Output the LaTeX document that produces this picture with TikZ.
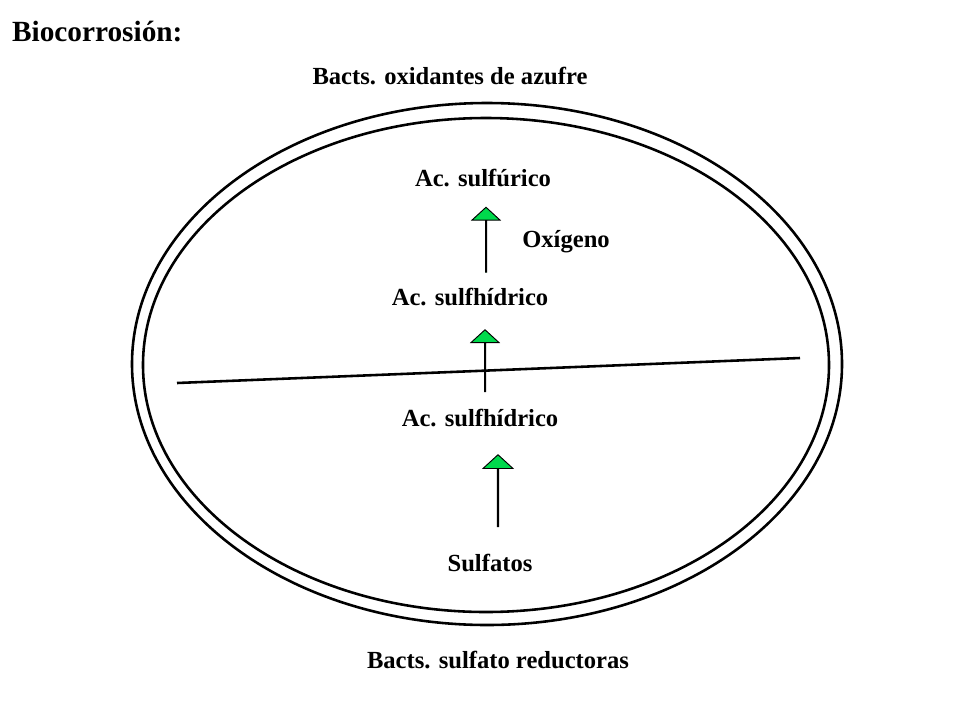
\documentclass[tikz,border=0pt]{standalone}
\usepackage{fontspec}
\setmainfont{Liberation Serif}
\usetikzlibrary{shapes.arrows}

\tikzset{
  lbl/.style={font=\fontsize{21}{24}\selectfont\bfseries},
  uparrow/.style={single arrow,draw=black,fill=green!65!cyan!85!black,thick,
    shape border rotate=90,single arrow head extend=0.36cm,
    minimum width=0.84cm,inner sep=0pt,single arrow tip angle=95},
}

\begin{document}
\begin{tikzpicture}[x=0.03cm,y=-0.03cm]
\useasboundingbox (0,0) rectangle (960,720);
\draw[line width=2.2pt] (487,364) ellipse [x radius=355,y radius=261];
\draw[line width=2.2pt] (486,365) ellipse [x radius=343,y radius=247];
\coordinate (L) at (177,383);
\coordinate (R) at (800,358);
\draw[line width=2.2pt] (L) -- (R);

\node[font=\fontsize{25}{28}\selectfont\bfseries,anchor=west] (title) at (8,32) {Biocorrosión:};
\node[lbl] (oxid) at (450,76) {Bacts. oxidantes de azufre};
\node[lbl] (sulfur) at (483,178) {Ac. sulfúrico};
\node[lbl] (oxig) at (566,242) {Oxígeno};
\node[lbl] (sulfh1) at (470,297) {Ac. sulfhídrico};
\node[lbl] (sulfh2) at (480,418) {Ac. sulfhídrico};
\node[lbl] (sulfat) at (490,563) {Sulfatos};
\node[lbl] (reduc) at (498,660) {Bacts. sulfato reductoras};

\begin{scope}[every node/.style={uparrow}]
  \node[minimum height=1.95cm] (up1) at (486,240) {};
  \node[minimum height=1.86cm] (up2) at (485,361) {};
  \node[minimum height=2.16cm,minimum width=0.9cm] (up3) at (498,491) {};
\end{scope}
\end{tikzpicture}
\end{document}
